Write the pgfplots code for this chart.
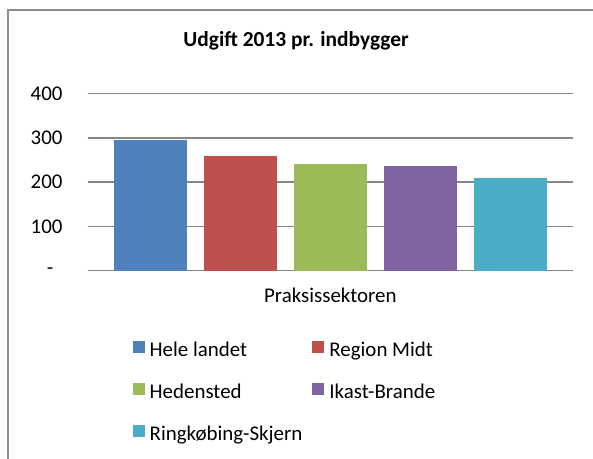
\documentclass[border=0pt]{standalone}
\usepackage{pgfplots}
\pgfplotsset{compat=1.18}
\usepackage{fontspec}
\setmainfont{Carlito}

\definecolor{c1}{HTML}{4F81BD}
\definecolor{c2}{HTML}{C0504D}
\definecolor{c3}{HTML}{9BBB59}
\definecolor{c4}{HTML}{8064A2}
\definecolor{c5}{HTML}{4BACC6}
\definecolor{gridgray}{HTML}{868686}
\definecolor{framegray}{HTML}{8C8C8C}

\pgfplotsset{sqlegend/.style={legend image code/.code={\fill[##1] (0bp,0bp) rectangle (12bp,12bp);}}}

\begin{document}
\begin{tikzpicture}
\useasboundingbox (0,0) rectangle (593bp,-459bp);
\draw[framegray, line width=1.5bp] (8bp,-459bp) -- (8bp,-9.8bp) -- (593bp,-9.8bp);
\node[font=\bfseries\fontsize{21.5}{24}\selectfont, anchor=base, inner sep=0pt] at (296bp,-46.7bp) {Udgift 2013 pr. indbygger};
\begin{axis}[
    at={(87.7bp,-270.7bp)}, anchor=south west,
    scale only axis, width=485.3bp, height=177bp,
    ybar=17.3bp, bar width=72.7bp,
    xmin=-1, xmax=1, ymin=0, ymax=400,
    xtick={0}, xticklabels={Praksissektoren},
    ytick={0,100,200,300,400},
    yticklabels={{\makebox[15.7bp][l]{-}},100,200,300,400},
    ymajorgrids, grid style={gridgray, line width=1.5bp},
    axis line style={draw=none},
    major tick length=0pt,
    tick label style={font=\fontsize{21}{25}\selectfont},
    yticklabel style={inner sep=0pt, xshift=-25bp},
    xticklabel style={inner sep=0pt, yshift=-17.5bp},
    legend style={at={(0.0927,-0.3955)}, anchor=north west, draw=none, fill=none,
        inner sep=0pt, outer sep=0pt, legend columns=2,
        font=\fontsize{21}{25}\selectfont,
        nodes={inner sep=0pt, text height=12bp, text depth=4bp},
        row sep=22bp,
        /tikz/every odd column/.append style={column sep=5bp},
        /tikz/every even column/.append style={column sep=10bp}},
    legend cell align=left,
]
\addplot[fill=c1, draw=none, sqlegend] coordinates {(0,295)};
\addplot[fill=c2, draw=none, sqlegend] coordinates {(0,259)};
\addplot[fill=c3, draw=none, sqlegend] coordinates {(0,241)};
\addplot[fill=c4, draw=none, sqlegend] coordinates {(0,237)};
\addplot[fill=c5, draw=none, sqlegend] coordinates {(0,210)};
\legend{Hele landet, Region Midt, Hedensted, Ikast-Brande, Ringkøbing-Skjern}
\end{axis}
\end{tikzpicture}
\end{document}
